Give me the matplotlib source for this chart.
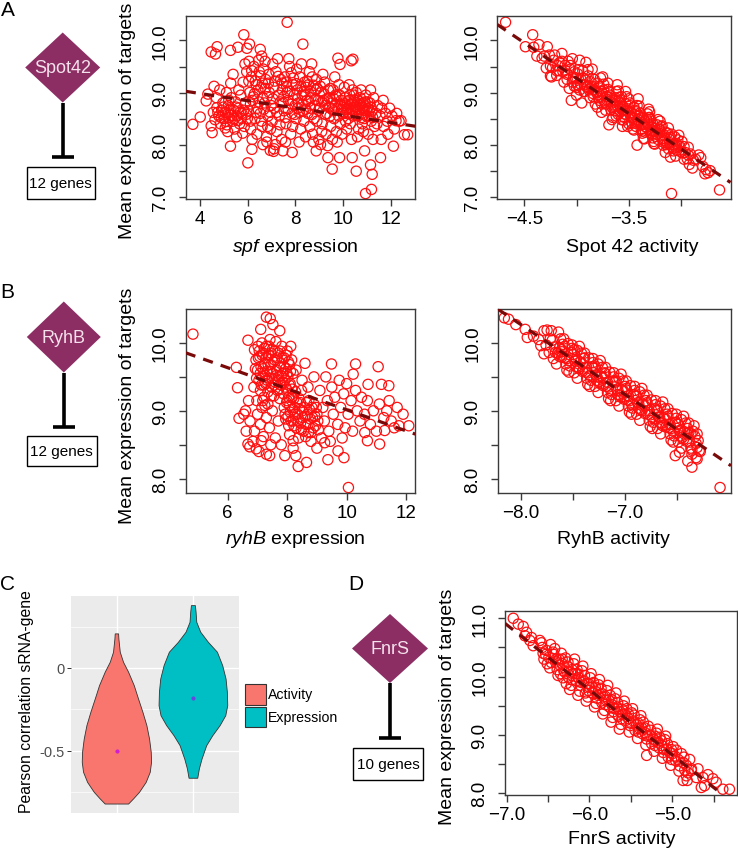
import matplotlib.pyplot as plt
from matplotlib.patches import Polygon, Rectangle

plt.rcParams['font.family'] = ['Liberation Sans', 'DejaVu Sans']
plt.rcParams['mathtext.fontset'] = 'custom'
plt.rcParams['mathtext.rm'] = 'Liberation Sans'
plt.rcParams['mathtext.it'] = 'Liberation Sans:italic'

# ---------------- data ----------------
# A: spf expression vs mean expression of Spot42 targets
spf_pts = [
    (4.55, 8.62), (4.62, 8.48), (4.70, 8.71), (4.78, 8.55), (4.85, 8.40), (4.90, 8.66), (4.68, 8.90), (4.95, 8.80),
    (4.82, 9.05), (5.00, 8.50), (4.58, 9.12),
    (5.05, 8.62), (5.12, 8.38), (5.18, 8.75), (5.22, 8.52), (5.30, 8.90), (5.35, 8.45), (5.40, 8.66), (5.10, 9.00),
    (5.28, 9.18), (5.45, 8.30), (5.48, 8.82), (5.15, 8.25), (5.38, 9.35),
    (5.55, 8.55), (5.60, 8.70), (5.65, 8.40), (5.70, 8.95), (5.75, 8.60), (5.80, 9.20), (5.85, 8.35), (5.90, 8.80),
    (5.95, 9.40), (5.62, 9.05), (5.78, 8.22), (5.88, 9.55), (5.52, 8.15), (5.98, 8.50),
    (6.02, 8.65), (6.08, 9.00), (6.12, 8.30), (6.15, 9.30), (6.20, 8.85), (6.25, 9.50), (6.30, 8.50), (6.35, 9.15),
    (6.40, 8.70), (6.45, 9.62), (6.05, 9.60), (6.18, 8.10), (6.28, 8.98), (6.38, 8.20), (6.48, 9.40), (6.10, 8.45),
    (6.52, 8.60), (6.55, 9.10), (6.60, 8.35), (6.65, 9.45), (6.70, 8.80), (6.75, 9.25), (6.80, 8.05), (6.85, 8.55),
    (6.90, 9.00), (6.95, 8.30), (6.58, 9.70), (6.72, 9.60), (6.88, 9.35), (6.62, 8.90), (6.98, 8.75), (6.78, 8.15),
    (7.02, 8.45), (7.08, 9.10), (7.12, 8.70), (7.18, 9.40), (7.22, 8.25), (7.28, 8.95), (7.32, 8.55), (7.38, 9.25),
    (7.42, 8.10), (7.48, 8.80), (7.05, 9.55), (7.15, 8.00), (7.25, 9.65), (7.35, 8.38), (7.45, 9.05), (7.10, 7.92),
    (7.52, 8.65), (7.55, 9.30), (7.60, 8.40), (7.65, 9.00), (7.70, 8.85), (7.75, 9.50), (7.80, 8.20), (7.85, 8.60),
    (7.90, 9.15), (7.95, 8.95), (7.58, 8.05), (7.72, 9.65), (7.88, 8.35), (7.62, 9.20), (7.98, 8.75), (7.82, 9.38),
    (8.02, 8.50), (8.08, 9.05), (8.12, 8.80), (8.18, 9.30), (8.22, 8.30), (8.28, 8.95), (8.32, 8.65), (8.38, 9.20),
    (8.42, 8.15), (8.48, 8.85), (8.05, 9.45), (8.15, 8.05), (8.25, 9.55), (8.35, 8.45), (8.45, 9.10), (8.10, 8.70),
    (8.40, 8.95),
    (8.52, 8.60), (8.55, 9.15), (8.60, 8.35), (8.65, 8.90), (8.70, 9.30), (8.75, 8.05), (8.80, 8.75), (8.85, 9.05),
    (8.90, 8.45), (8.95, 8.85), (8.58, 9.40), (8.72, 8.20), (8.88, 9.25), (8.62, 8.70), (8.98, 8.10), (8.78, 8.50),
    (8.68, 9.55),
    (9.02, 8.70), (9.08, 9.00), (9.12, 8.40), (9.18, 8.85), (9.22, 9.20), (9.28, 8.20), (9.32, 8.60), (9.38, 9.05),
    (9.42, 8.90), (9.48, 8.35), (9.05, 8.00), (9.15, 9.35), (9.25, 8.75), (9.35, 7.98), (9.45, 8.55), (9.10, 8.25),
    (9.52, 8.80), (9.58, 9.05), (9.62, 8.50), (9.68, 8.95), (9.72, 8.25), (9.78, 8.70), (9.82, 9.15), (9.88, 8.40),
    (9.92, 8.85), (9.98, 8.60), (9.55, 8.10), (9.65, 9.30), (9.75, 8.05), (9.85, 8.95), (9.95, 8.20), (9.60, 8.65),
    (10.02, 8.75), (10.08, 8.90), (10.12, 8.60), (10.18, 8.82), (10.22, 8.50), (10.28, 8.95), (10.32, 8.68),
    (10.38, 8.80), (10.42, 8.55), (10.48, 8.72), (10.05, 9.10), (10.15, 8.30), (10.25, 9.15), (10.35, 8.10),
    (10.45, 8.95), (10.10, 8.45), (10.30, 8.40), (10.40, 9.05), (10.20, 8.70),
    (10.52, 8.65), (10.58, 8.80), (10.62, 8.55), (10.68, 8.75), (10.72, 8.90), (10.78, 8.60), (10.82, 8.72),
    (10.88, 8.50), (10.92, 8.82), (10.98, 8.65), (10.55, 9.00), (10.65, 8.30), (10.75, 9.05), (10.85, 8.25),
    (10.95, 8.95), (10.60, 8.15), (10.80, 8.40),
    (11.02, 8.70), (11.08, 8.55), (11.12, 8.80), (11.18, 8.45), (11.22, 8.65), (11.28, 8.90), (11.32, 8.35),
    (11.38, 8.60), (11.45, 8.75), (11.05, 8.20), (11.15, 9.05), (11.25, 8.10), (11.42, 8.40),
    (11.55, 8.55), (11.62, 8.70), (11.70, 8.35), (11.78, 8.60), (11.85, 8.45), (11.95, 8.70), (12.05, 8.55),
    (12.15, 8.30), (11.68, 8.85), (11.88, 8.20), (12.25, 8.60), (12.35, 8.45), (11.60, 8.10),
    (7.65, 10.35), (5.83, 10.11), (4.71, 9.88), (4.46, 9.78), (4.64, 9.74), (5.27, 9.81), (5.58, 9.87), (5.96, 9.85),
    (6.07, 9.93), (6.52, 9.83), (8.31, 9.93), (9.78, 9.66), (10.34, 9.61), (10.41, 9.64), (9.87, 9.54),
    (3.69, 8.39), (4.00, 8.53), (4.46, 8.36), (4.50, 8.23), (5.27, 7.97), (6.00, 7.65), (6.17, 7.91), (6.63, 8.00),
    (6.94, 7.89), (7.08, 7.87), (7.47, 7.88), (7.86, 7.85), (8.87, 7.88), (9.36, 7.75), (9.54, 7.53), (9.85, 7.75),
    (10.38, 7.75), (10.55, 7.49), (10.90, 7.88), (11.15, 7.61), (11.22, 7.43), (10.94, 7.06), (11.19, 7.14),
    (11.57, 7.75), (12.11, 7.97), (12.22, 8.46), (12.43, 8.46), (12.57, 8.19), (12.71, 8.19), (4.25, 8.84),
    (4.32, 8.97),
]
spf_core = [
    (7.05, 8.88), (7.13, 9.22), (7.21, 8.62), (7.27, 9.31), (7.36, 8.82), (7.44, 9.18), (7.51, 8.92), (7.57, 8.52),
    (7.63, 9.12), (7.69, 8.68), (7.76, 9.02), (7.84, 8.78), (7.91, 9.28), (7.97, 8.58), (8.03, 9.17), (8.09, 8.88),
    (8.16, 8.62), (8.23, 9.12), (8.29, 8.77), (8.36, 9.02), (8.43, 8.68), (8.49, 9.22), (8.56, 8.83), (8.63, 9.02),
    (8.69, 8.58), (8.76, 9.14), (8.83, 8.87), (8.91, 9.08), (8.97, 8.66), (9.04, 9.12), (9.11, 8.82), (9.19, 8.98),
    (9.26, 8.58), (9.33, 8.88), (9.41, 8.72), (9.47, 9.08), (9.53, 8.68), (9.61, 8.88), (9.67, 8.76), (9.74, 8.92),
    (9.81, 8.55), (9.87, 8.78), (9.93, 8.68),
    (10.03, 8.62), (10.11, 8.78), (10.17, 8.68), (10.24, 8.85), (10.27, 8.60), (10.34, 8.78), (10.41, 8.66),
    (10.47, 8.85), (10.54, 8.72), (10.57, 8.58), (10.63, 8.85), (10.66, 8.68), (10.73, 8.78), (10.77, 8.52),
    (10.84, 8.80), (10.87, 8.66), (10.93, 8.74), (10.97, 8.55), (11.03, 8.82), (11.10, 8.66), (11.17, 8.72),
    (11.24, 8.52),
    (6.04, 9.22), (6.11, 8.78), (6.16, 9.42), (6.23, 8.92), (6.31, 9.22), (6.36, 8.62), (6.42, 9.05), (6.47, 8.82),
    (6.53, 9.32), (6.61, 9.18), (6.67, 8.68), (6.73, 9.08), (6.81, 8.92), (6.86, 9.18), (6.94, 8.62), (6.57, 8.45),
    (6.83, 8.35),
    (4.74, 8.62), (4.88, 8.52), (4.97, 8.72), (5.07, 8.45), (5.16, 8.60), (5.25, 8.68), (5.33, 8.56), (5.43, 8.50),
    (5.51, 8.72), (5.58, 8.46), (5.68, 8.62), (5.73, 8.50), (5.83, 8.66), (5.93, 8.58), (5.20, 8.85), (5.05, 8.32),
]
spf_fit = [(3.3, 9.03), (12.5, 8.39)]

# A: Spot 42 activity
spot42_pts = [
    (-4.41, 9.87), (-4.38, 9.70), (-4.36, 9.92), (-4.33, 9.66), (-4.31, 9.70), (-4.28, 9.88), (-4.29, 9.47),
    (-4.26, 9.72), (-4.23, 9.48), (-4.24, 9.30), (-4.21, 9.72), (-4.18, 9.52), (-4.19, 9.33),
    (-4.16, 9.58), (-4.13, 9.40), (-4.14, 9.75), (-4.12, 9.20), (-4.11, 9.43), (-4.08, 9.60), (-4.09, 9.25),
    (-4.07, 9.08), (-4.06, 9.45), (-4.03, 9.30), (-4.04, 9.65), (-4.02, 9.12), (-4.05, 8.85),
    (-4.01, 9.28), (-3.98, 9.44), (-3.99, 9.15), (-3.97, 9.62), (-4.00, 8.95),
    (-3.96, 9.26), (-3.93, 9.02), (-3.94, 9.42), (-3.92, 9.15), (-3.95, 8.80), (-3.91, 9.58),
    (-3.91, 9.24), (-3.88, 9.05), (-3.89, 9.44), (-3.87, 8.90), (-3.90, 9.12),
    (-3.86, 9.10), (-3.83, 9.25), (-3.84, 8.92), (-3.82, 8.78), (-3.85, 9.45), (-3.81, 9.02),
    (-3.81, 9.00), (-3.78, 9.12), (-3.79, 8.90), (-3.77, 9.28), (-3.80, 8.72), (-3.76, 8.62),
    (-3.76, 9.02), (-3.73, 8.82), (-3.74, 9.16), (-3.72, 8.66), (-3.75, 9.30), (-3.71, 8.93),
    (-3.71, 8.92), (-3.68, 8.82), (-3.69, 9.02), (-3.67, 8.67), (-3.70, 9.18), (-3.66, 8.48), (-3.69, 8.38),
    (-3.66, 8.80), (-3.63, 8.90), (-3.64, 8.65), (-3.62, 9.02), (-3.65, 8.52), (-3.61, 9.15), (-3.64, 8.76),
    (-3.61, 8.75), (-3.58, 8.63), (-3.59, 8.91), (-3.57, 8.48), (-3.60, 9.03), (-3.56, 8.35), (-3.58, 8.80),
    (-3.56, 8.67), (-3.53, 8.79), (-3.54, 8.59), (-3.52, 8.92), (-3.55, 8.47), (-3.51, 8.35), (-3.53, 9.02),
    (-3.51, 8.65), (-3.48, 8.55), (-3.49, 8.75), (-3.47, 8.42), (-3.50, 8.88), (-3.46, 8.30), (-3.48, 8.62),
    (-3.46, 8.53), (-3.43, 8.63), (-3.44, 8.41), (-3.42, 8.75), (-3.45, 8.28), (-3.41, 8.88), (-3.42, 7.99),
    (-3.41, 8.48), (-3.38, 8.38), (-3.39, 8.61), (-3.37, 8.26), (-3.40, 8.74), (-3.36, 8.12), (-3.38, 8.52),
    (-3.36, 8.39), (-3.33, 8.49), (-3.34, 8.24), (-3.32, 8.59), (-3.35, 8.11), (-3.31, 8.68),
    (-3.31, 8.38), (-3.28, 8.28), (-3.29, 8.48), (-3.27, 8.13), (-3.30, 8.63), (-3.26, 8.02),
    (-3.26, 8.26), (-3.23, 8.38), (-3.24, 8.16), (-3.22, 8.48), (-3.25, 8.01), (-3.21, 8.30),
    (-3.21, 8.22), (-3.18, 8.11), (-3.19, 8.34), (-3.17, 7.99), (-3.20, 8.45), (-3.16, 8.18),
    (-3.16, 8.12), (-3.13, 8.22), (-3.14, 8.00), (-3.12, 8.32), (-3.15, 7.85),
    (-3.11, 8.10), (-3.08, 8.00), (-3.09, 8.20), (-3.07, 7.88), (-3.10, 7.76),
    (-3.06, 7.99), (-3.03, 8.09), (-3.04, 7.89), (-3.02, 8.18), (-3.05, 7.78),
    (-3.01, 7.96), (-2.98, 7.84), (-2.99, 8.06), (-2.97, 7.72),
    (-2.96, 7.85), (-2.93, 7.95), (-2.94, 7.73), (-2.92, 7.62),
    (-2.91, 7.82), (-2.88, 7.70), (-2.89, 7.55), (-2.86, 7.72), (-2.83, 7.80), (-2.81, 7.75),
    (-2.79, 7.58), (-2.77, 7.44), (-2.76, 7.52),
    (-4.68, 10.35), (-4.42, 10.11), (-4.49, 9.88), (-4.25, 9.32), (-4.25, 9.51), (-3.09, 7.06), (-2.63, 7.13),
    (-2.72, 7.50), (-2.74, 7.46),
]
spot42_core = [
    (-4.17, 9.42), (-4.11, 9.52), (-4.04, 9.20), (-3.99, 9.36), (-3.94, 9.28), (-3.92, 9.02), (-3.87, 9.21),
    (-3.84, 8.98), (-3.80, 9.18), (-3.78, 8.85), (-3.74, 9.05), (-3.72, 8.78), (-3.68, 8.95), (-3.66, 8.72),
    (-3.63, 8.86), (-3.60, 8.58), (-3.59, 8.82), (-3.56, 8.72), (-3.54, 8.52), (-3.52, 8.66), (-3.49, 8.80),
    (-3.47, 8.52), (-3.44, 8.66), (-3.43, 8.35), (-3.40, 8.55), (-3.38, 8.30), (-3.36, 8.50), (-3.33, 8.33),
    (-3.31, 8.52), (-3.29, 8.22), (-3.27, 8.40), (-3.24, 8.25), (-3.22, 8.10), (-3.20, 8.28), (-3.17, 8.05),
    (-3.15, 8.24), (-3.13, 8.02), (-3.10, 8.14), (-3.07, 7.93), (-3.04, 8.02), (-3.00, 7.86), (-2.97, 7.96),
    (-2.93, 7.80), (-3.97, 9.05), (-3.89, 9.32), (-3.76, 8.78), (-3.70, 9.06), (-3.62, 8.55), (-3.57, 8.92),
    (-3.50, 8.40), (-3.45, 8.72), (-3.37, 8.22), (-3.30, 8.52), (-3.26, 8.06), (-3.18, 8.36), (-3.12, 7.92),
    (-3.06, 8.15), (-4.22, 9.62), (-4.19, 9.42), (-4.14, 9.60), (-4.09, 9.35), (-4.06, 9.52), (-4.02, 9.40),
    (-4.00, 9.10),
    (-4.03, 9.26), (-3.96, 9.16), (-3.90, 9.10), (-3.83, 9.05), (-3.77, 8.92), (-3.71, 8.86), (-3.65, 8.74),
    (-3.58, 8.70), (-3.53, 8.58), (-3.46, 8.50), (-3.41, 8.42), (-3.34, 8.35), (-3.28, 8.26), (-3.23, 8.20),
    (-3.16, 8.08), (-3.11, 8.04), (-3.05, 7.95), (-3.85, 9.12), (-3.75, 8.98), (-3.64, 8.84), (-3.55, 8.72),
    (-3.44, 8.57), (-3.35, 8.45), (-3.25, 8.32),
]
spot42_fit = [(-4.74, 10.28), (-2.64, 7.43)]

# B: ryhB expression
ryhb_expr_pts = [
    (6.90, 9.90), (6.95, 9.75), (7.00, 9.60), (7.02, 9.95), (7.05, 9.45), (7.08, 9.80), (7.10, 9.30), (7.12, 9.65),
    (7.15, 10.00), (7.18, 9.50), (7.20, 9.85), (7.22, 9.20), (7.25, 9.70), (7.28, 9.40), (7.30, 9.95), (7.32, 9.58),
    (7.35, 9.28), (7.38, 9.82), (7.40, 9.48), (7.42, 10.05), (7.45, 9.68), (7.48, 9.35), (7.50, 9.90), (7.52, 9.55),
    (7.55, 9.22), (7.58, 9.75), (7.60, 9.42), (7.62, 10.02), (7.65, 9.60), (7.68, 9.30), (7.70, 9.85), (7.72, 9.50),
    (7.75, 9.18), (7.78, 9.70), (7.80, 9.38), (7.82, 9.95), (7.85, 9.55), (7.88, 9.25), (7.90, 9.78), (7.92, 9.45),
    (7.95, 9.62), (7.98, 9.32), (8.00, 9.88), (8.02, 9.50), (8.05, 9.20), (8.08, 9.68), (8.10, 9.40), (6.88, 9.35),
    (6.98, 9.15), (7.15, 9.05), (7.35, 9.10), (8.15, 9.75), (8.20, 9.55), (8.12, 9.95),
    (7.90, 9.05), (7.95, 8.88), (8.00, 9.15), (8.05, 8.78), (8.10, 8.98), (8.15, 9.20), (8.20, 8.85), (8.25, 9.05),
    (8.30, 8.75), (8.35, 8.95), (8.40, 9.18), (8.45, 8.82), (8.50, 9.00), (8.55, 8.70), (8.60, 8.92), (8.65, 9.12),
    (8.70, 8.80), (8.75, 9.02), (8.80, 8.68), (8.85, 8.90), (8.90, 9.10), (8.95, 8.78), (9.00, 8.95), (9.05, 8.72),
    (8.28, 9.28), (8.48, 9.30), (8.08, 8.65), (8.62, 8.62), (8.38, 8.60),
    (6.60, 9.00), (6.75, 8.85), (6.90, 8.70), (7.00, 8.95), (7.10, 8.80), (7.20, 8.62), (7.30, 8.90), (7.40, 8.75),
    (7.50, 9.00), (7.60, 8.60), (7.70, 8.85), (7.80, 8.50), (6.70, 9.15), (6.85, 8.55), (7.05, 8.40), (7.45, 8.50),
    (7.25, 9.08), (6.62, 8.70),
    (9.10, 9.30), (9.20, 9.05), (9.25, 8.85), (9.30, 9.50), (9.35, 9.15), (9.40, 8.70), (9.50, 9.35), (9.55, 8.95),
    (9.60, 9.20), (9.70, 8.80), (9.75, 9.45), (9.80, 9.05), (9.90, 9.25), (9.95, 8.75), (10.00, 9.40), (10.05, 8.95),
    (10.15, 9.15), (10.20, 8.70), (10.30, 9.30), (10.35, 9.00), (10.45, 8.85), (10.50, 9.20), (10.60, 8.95),
    (10.70, 9.15), (10.80, 8.80), (10.90, 9.00), (11.00, 8.70), (11.10, 9.10), (11.25, 8.90), (11.35, 9.00),
    (11.50, 8.85), (11.60, 8.75), (11.70, 9.05), (11.90, 8.95), (9.15, 8.60), (9.45, 8.55), (9.85, 8.60),
    (8.50, 9.45), (8.70, 9.35), (8.90, 9.50), (8.30, 9.60), (8.60, 9.70), (8.80, 8.55), (9.00, 8.45), (8.20, 8.45),
    (4.83, 10.13), (6.29, 9.64), (6.33, 9.34), (6.68, 10.04), (7.30, 10.38), (7.43, 10.36), (7.52, 10.27),
    (7.11, 10.20), (7.75, 10.18), (6.38, 8.89), (6.54, 8.95), (6.68, 8.51), (6.74, 8.47), (6.96, 8.44), (7.13, 8.56),
    (7.30, 8.36), (7.41, 8.34), (7.92, 8.34), (8.29, 8.34), (8.37, 8.18), (8.65, 8.24), (8.20, 8.56), (9.26, 8.53),
    (9.37, 8.28), (9.71, 8.41), (9.91, 8.31), (10.06, 7.87), (9.49, 9.69), (10.30, 9.69), (11.06, 9.65),
    (11.17, 9.39), (11.42, 9.37), (11.43, 9.15), (11.76, 8.78), (12.09, 8.78), (11.11, 8.51), (10.70, 8.56),
    (11.28, 8.71), (10.61, 8.68), (10.22, 9.54), (10.72, 9.39),
]
ryhb_expr_core = [
    (6.93, 9.62), (6.97, 9.48), (7.03, 9.78), (7.06, 9.88), (7.09, 9.55), (7.13, 9.38), (7.16, 9.82), (7.19, 9.62),
    (7.23, 9.92), (7.26, 9.52), (7.29, 9.78), (7.33, 9.45), (7.36, 9.68), (7.39, 9.95), (7.43, 9.58), (7.46, 9.85),
    (7.49, 9.48), (7.53, 9.72), (7.56, 9.38), (7.59, 9.88), (7.63, 9.52), (7.66, 9.78), (7.69, 9.45), (7.73, 9.65),
    (7.76, 9.88), (7.79, 9.52), (7.83, 9.78), (7.86, 9.42), (7.89, 9.65), (7.93, 9.35), (7.96, 9.82), (7.99, 9.55),
    (8.04, 9.72), (8.07, 9.38), (8.11, 9.58), (7.22, 9.38), (7.47, 9.22), (7.71, 9.32), (7.18, 9.15), (8.17, 9.32),
    (7.93, 8.95), (7.98, 9.12), (8.03, 8.92), (8.08, 9.08), (8.13, 8.85), (8.18, 9.02), (8.23, 8.78), (8.27, 8.95),
    (8.33, 9.12), (8.37, 8.85), (8.42, 9.02), (8.47, 8.72), (8.52, 8.90), (8.57, 9.05), (8.63, 8.80), (8.68, 8.95),
    (8.73, 9.15), (8.78, 8.88), (8.83, 9.05), (8.88, 8.75), (8.93, 8.92), (8.98, 9.05), (9.03, 8.85), (8.22, 9.18),
    (8.45, 9.12), (8.72, 8.68),
]
ryhb_expr_fit = [(4.55, 9.86), (12.29, 8.66)]

# B: RyhB activity
ryhb_act_pts = [
    (-8.16, 10.37), (-8.12, 10.35), (-8.05, 10.27), (-7.96, 10.20), (-7.94, 10.08), (-7.88, 10.10), (-7.83, 10.05),
    (-7.78, 10.18), (-7.81, 9.96), (-7.78, 9.84),
    (-7.75, 10.19), (-7.72, 10.06), (-7.76, 9.97), (-7.73, 9.86),
    (-7.70, 10.04), (-7.67, 9.86), (-7.71, 10.18), (-7.68, 9.94), (-7.69, 9.77),
    (-7.65, 9.85), (-7.62, 10.06), (-7.66, 9.69), (-7.63, 9.93), (-7.64, 10.16), (-7.61, 9.79),
    (-7.60, 9.98), (-7.57, 9.69), (-7.61, 9.90), (-7.58, 9.78), (-7.59, 10.06), (-7.56, 9.60),
    (-7.55, 9.99), (-7.52, 9.86), (-7.56, 9.77), (-7.53, 9.66), (-7.54, 9.57), (-7.51, 9.92),
    (-7.50, 9.83), (-7.47, 9.65), (-7.51, 9.97), (-7.48, 9.73), (-7.49, 9.56), (-7.46, 9.89),
    (-7.45, 9.64), (-7.42, 9.85), (-7.46, 9.48), (-7.43, 9.72), (-7.44, 9.95), (-7.41, 9.58),
    (-7.40, 9.77), (-7.37, 9.48), (-7.41, 9.69), (-7.38, 9.57), (-7.39, 9.85), (-7.36, 9.39),
    (-7.35, 9.78), (-7.32, 9.65), (-7.36, 9.56), (-7.33, 9.45), (-7.34, 9.36), (-7.31, 9.71),
    (-7.30, 9.63), (-7.27, 9.45), (-7.31, 9.77), (-7.28, 9.53), (-7.29, 9.36), (-7.26, 9.69),
    (-7.25, 9.43), (-7.22, 9.64), (-7.26, 9.27), (-7.23, 9.51), (-7.24, 9.74), (-7.21, 9.37),
    (-7.20, 9.56), (-7.17, 9.27), (-7.21, 9.48), (-7.18, 9.36), (-7.19, 9.64), (-7.16, 9.18),
    (-7.15, 9.57), (-7.12, 9.44), (-7.16, 9.35), (-7.13, 9.24), (-7.14, 9.15), (-7.11, 9.50),
    (-7.10, 9.42), (-7.07, 9.24), (-7.11, 9.56), (-7.08, 9.32), (-7.09, 9.15), (-7.06, 9.48),
    (-7.05, 9.23), (-7.02, 9.44), (-7.06, 9.07), (-7.03, 9.31), (-7.04, 9.54), (-7.01, 9.17),
    (-7.00, 9.36), (-6.97, 9.07), (-7.01, 9.28), (-6.98, 9.16), (-6.99, 9.44), (-6.96, 8.98),
    (-6.95, 9.37), (-6.92, 9.24), (-6.96, 9.15), (-6.93, 9.04), (-6.94, 8.95), (-6.91, 9.30),
    (-6.90, 9.22), (-6.87, 9.04), (-6.91, 9.36), (-6.88, 9.12), (-6.89, 8.95), (-6.86, 9.28),
    (-6.85, 9.02), (-6.82, 9.23), (-6.86, 8.86), (-6.83, 9.10), (-6.84, 9.33), (-6.81, 8.96),
    (-6.80, 9.15), (-6.77, 8.86), (-6.81, 9.07), (-6.78, 8.95), (-6.79, 9.23), (-6.76, 8.77),
    (-6.75, 9.16), (-6.72, 9.03), (-6.76, 8.94), (-6.73, 8.83), (-6.74, 8.74), (-6.71, 9.09),
    (-6.70, 9.01), (-6.67, 8.83), (-6.71, 9.15), (-6.68, 8.91), (-6.69, 8.74), (-6.66, 9.07),
    (-6.65, 8.82), (-6.62, 9.03), (-6.66, 8.66), (-6.63, 8.90), (-6.64, 9.13), (-6.61, 8.76),
    (-6.60, 8.95), (-6.57, 8.66), (-6.61, 8.87), (-6.58, 8.75), (-6.59, 9.03), (-6.56, 8.57),
    (-6.55, 8.96), (-6.52, 8.83), (-6.56, 8.74), (-6.53, 8.63), (-6.54, 8.54), (-6.51, 8.89),
    (-6.50, 8.81), (-6.47, 8.63), (-6.51, 8.95), (-6.48, 8.71), (-6.49, 8.54), (-6.46, 8.87),
    (-6.45, 8.61), (-6.42, 8.82), (-6.46, 8.45), (-6.43, 8.69), (-6.44, 8.92), (-6.41, 8.55),
    (-6.40, 8.74), (-6.37, 8.45), (-6.41, 8.66), (-6.38, 8.54), (-6.39, 8.82), (-6.36, 8.36),
    (-6.35, 8.70), (-6.32, 8.52), (-6.36, 8.42), (-6.33, 8.62),
    (-6.30, 8.56), (-6.28, 8.40), (-6.31, 8.66),
    (-6.52, 8.34), (-6.48, 8.39), (-6.40, 8.26), (-6.36, 8.17), (-6.32, 8.31), (-6.29, 8.41), (-6.31, 8.29),
    (-6.37, 8.66), (-6.34, 8.78), (-6.31, 8.46), (-6.09, 7.87),
]
ryhb_act_core = [
    (-7.63, 9.80), (-7.58, 9.95), (-7.54, 9.74), (-7.49, 9.90), (-7.44, 9.62), (-7.39, 9.78), (-7.34, 9.52),
    (-7.29, 9.66), (-7.24, 9.40), (-7.19, 9.55), (-7.14, 9.30), (-7.09, 9.44), (-7.04, 9.20), (-6.99, 9.33),
    (-6.94, 9.10), (-6.89, 9.22), (-6.84, 9.00), (-6.79, 9.12), (-6.74, 8.90), (-6.69, 9.00), (-6.64, 8.78),
    (-6.59, 8.92), (-6.54, 8.70), (-6.49, 8.80), (-6.44, 8.58), (-6.39, 8.68),
    (-7.61, 9.87), (-7.47, 9.76), (-7.37, 9.64), (-7.27, 9.50), (-7.17, 9.42), (-7.07, 9.30), (-6.97, 9.22),
    (-6.87, 9.10), (-6.77, 9.00), (-6.67, 8.90), (-6.57, 8.80), (-6.47, 8.70),
]
ryhb_act_fit = [(-8.195, 10.47), (-6.10, 8.31)]

# D: FnrS activity
fnrs_pts = [
    (-6.92, 11.00), (-6.86, 10.90), (-6.80, 10.86), (-6.76, 10.76), (-6.78, 10.70), (-6.70, 10.67), (-6.68, 10.53),
    (-6.60, 10.62), (-6.72, 10.62),
    (-6.58, 10.58), (-6.56, 10.40), (-6.55, 10.30), (-6.57, 10.50),
    (-6.52, 10.45), (-6.49, 10.33), (-6.51, 10.22), (-6.47, 10.55), (-6.48, 10.15),
    (-6.43, 10.38), (-6.41, 10.25), (-6.39, 10.12), (-6.42, 10.48), (-6.37, 10.30), (-6.38, 10.02),
    (-6.33, 10.22), (-6.31, 10.10), (-6.29, 10.32), (-6.32, 9.98), (-6.27, 10.18), (-6.28, 9.88), (-6.34, 10.40),
    (-6.23, 10.08), (-6.21, 9.95), (-6.19, 10.22), (-6.22, 9.85), (-6.17, 10.05), (-6.18, 10.30), (-6.24, 9.78),
    (-6.13, 9.98), (-6.11, 9.85), (-6.09, 10.10), (-6.12, 9.75), (-6.07, 9.92), (-6.08, 10.18), (-6.14, 9.68),
    (-6.03, 9.88), (-6.01, 9.76), (-5.99, 9.98), (-6.02, 9.65), (-5.97, 9.82), (-5.98, 10.05), (-6.04, 9.58),
    (-5.93, 9.75), (-5.91, 9.63), (-5.89, 9.86), (-5.92, 9.54), (-5.87, 9.70), (-5.88, 9.95), (-5.94, 9.48),
    (-5.83, 9.65), (-5.81, 9.52), (-5.79, 9.76), (-5.82, 9.42), (-5.77, 9.60), (-5.78, 9.85), (-5.84, 9.36),
    (-5.73, 9.52), (-5.71, 9.40), (-5.69, 9.62), (-5.72, 9.30), (-5.67, 9.48), (-5.68, 9.72), (-5.74, 9.22),
    (-5.63, 9.40), (-5.61, 9.28), (-5.59, 9.50), (-5.62, 9.18), (-5.57, 9.36), (-5.58, 9.58), (-5.64, 9.10),
    (-5.53, 9.28), (-5.51, 9.16), (-5.49, 9.38), (-5.52, 9.05), (-5.47, 9.24), (-5.48, 9.45),
    (-5.43, 9.17), (-5.41, 9.05), (-5.39, 9.26), (-5.42, 8.94), (-5.37, 9.12), (-5.38, 9.33),
    (-5.33, 9.04), (-5.31, 8.93), (-5.29, 9.15), (-5.32, 8.83), (-5.27, 9.00), (-5.31, 8.65),
    (-5.23, 8.93), (-5.21, 8.82), (-5.19, 9.03), (-5.22, 8.72), (-5.17, 8.88), (-5.18, 9.10),
    (-5.13, 8.82), (-5.11, 8.70), (-5.09, 8.92), (-5.12, 8.60), (-5.07, 8.76), (-5.08, 8.98),
    (-5.03, 8.70), (-5.01, 8.58), (-4.99, 8.80), (-5.02, 8.48), (-4.97, 8.64),
    (-4.93, 8.58), (-4.91, 8.47), (-4.89, 8.68), (-4.92, 8.38), (-4.87, 8.53),
    (-4.83, 8.48), (-4.81, 8.35), (-4.79, 8.58), (-4.82, 8.22), (-4.77, 8.42),
    (-4.87, 8.22), (-4.83, 8.30), (-4.77, 8.39), (-4.69, 8.42), (-4.63, 8.27), (-4.61, 8.13), (-4.57, 8.32),
    (-4.51, 8.25), (-4.47, 8.19), (-4.39, 8.07), (-4.31, 8.07), (-4.65, 8.10), (-4.71, 8.27),
]
fnrs_core = [
    (-6.53, 10.38), (-6.46, 10.24), (-6.44, 10.42), (-6.36, 10.20), (-6.35, 10.05), (-6.26, 10.25), (-6.25, 9.98),
    (-6.16, 9.93), (-6.15, 10.12), (-6.06, 10.02), (-6.05, 9.72), (-5.96, 9.72), (-5.95, 9.90), (-5.86, 9.80),
    (-5.85, 9.55), (-5.76, 9.48), (-5.75, 9.68), (-5.66, 9.55), (-5.65, 9.32), (-5.56, 9.25), (-5.55, 9.45),
    (-5.46, 9.34), (-5.45, 9.08), (-5.36, 9.02), (-5.35, 9.22), (-5.26, 9.08), (-5.25, 8.85), (-5.16, 8.78),
    (-5.15, 8.96), (-5.06, 8.85), (-5.05, 8.62), (-4.96, 8.56), (-4.95, 8.74), (-4.86, 8.62), (-4.85, 8.40),
    (-6.21, 10.12), (-6.01, 9.88), (-5.81, 9.66), (-5.61, 9.44), (-5.41, 9.20), (-5.21, 8.98), (-5.01, 8.75),
    (-6.40, 10.30), (-6.30, 10.08), (-6.20, 10.05), (-6.10, 9.90), (-6.00, 9.82), (-5.90, 9.68), (-5.80, 9.60),
    (-5.70, 9.45), (-5.60, 9.36), (-5.50, 9.20), (-5.40, 9.12), (-5.30, 8.98), (-5.20, 8.90), (-5.10, 8.75),
    (-5.00, 8.68), (-6.33, 10.30), (-6.14, 10.05), (-5.93, 9.82), (-5.73, 9.60), (-5.53, 9.36), (-5.33, 9.12),
    (-5.13, 8.90),
]
fnrs_fit = [(-7.0, 10.89), (-4.51, 8.11)]

# C: violin profiles (level, half width) and means
act_levels = [0.206, 0.175, 0.095, 0.034, -0.026, -0.107, -0.188, -0.268, -0.349, -0.430, -0.510,
              -0.571, -0.631, -0.692, -0.752, -0.792, -0.823]
act_halfw = [0.022, 0.026, 0.044, 0.087, 0.153, 0.227, 0.283, 0.340, 0.392, 0.427, 0.449,
             0.453, 0.436, 0.383, 0.296, 0.218, 0.153]
expr_levels = [0.377, 0.337, 0.276, 0.216, 0.155, 0.095, 0.014, -0.067, -0.147, -0.228, -0.289,
               -0.349, -0.410, -0.470, -0.551, -0.611, -0.667]
expr_halfw = [0.026, 0.035, 0.044, 0.096, 0.196, 0.314, 0.383, 0.427, 0.444, 0.449, 0.423,
              0.349, 0.253, 0.174, 0.113, 0.078, 0.057]
act_mean = -0.50
expr_mean = -0.183

# ---------------- figure ----------------
W, H = 738, 853
fig = plt.figure(figsize=(W / 100, H / 100), dpi=100)


def px_axes(x0, y0, x1, y1):
    return fig.add_axes([x0 / W, 1 - y1 / H, (x1 - x0) / W, (y1 - y0) / H])


def ftext(x, y, s, **kw):
    fig.text(x / W, 1 - y / H, s, **kw)


# overlay for the sRNA diagrams, panel letters and the ggplot legend
ov = px_axes(0, 0, W, H)
ov.set_xlim(0, W)
ov.set_ylim(H, 0)
ov.axis('off')

PURPLE = '#8C2E64'


def srna(cx, cy, hw, hh, name, bar_y, box, genes):
    ov.add_patch(Polygon([(cx - hw, cy), (cx, cy - hh), (cx + hw, cy), (cx, cy + hh)],
                         closed=True, fc=PURPLE, ec='none'))
    ov.text(cx, cy, name, color='#F4E1EC', fontsize=13, ha='center', va='center')
    ov.plot([cx, cx], [cy + hh, bar_y], color='black', lw=2.6, solid_capstyle='butt')
    ov.plot([cx - 11, cx + 11], [bar_y, bar_y], color='black', lw=2.6, solid_capstyle='butt')
    x0, y0, x1, y1 = box
    ov.add_patch(Rectangle((x0, y0), x1 - x0, y1 - y0, fc='white', ec='black', lw=1.0))
    ov.text((x0 + x1) / 2, (y0 + y1) / 2, genes, fontsize=11, ha='center', va='center')


srna(62.7, 68.5, 37.5, 35, 'Spot42', 157.7, (26.7, 168.3, 95, 200), '12 genes')
srna(63.8, 338, 37, 35.5, 'RyhB', 428.3, (26.7, 437.3, 96.7, 467), '12 genes')
srna(390, 649.5, 38, 34.5, 'FnrS', 739.3, (353.3, 749.3, 422.7, 781), '10 genes')

for letter, lx, ly in [('A', 7.5, 10), ('B', 7.5, 292), ('C', 7.5, 585), ('D', 356, 585)]:
    ov.text(lx, ly, letter, fontsize=15, ha='center', va='center')


def r_panel(ax, pts, fit, xlim, ylim, xt, xtl, yt, ytl):
    ax.scatter([p[0] for p in pts], [p[1] for p in pts], s=54, facecolors='none',
               edgecolors='#FF1010', linewidths=0.9, zorder=2)
    ax.axline(fit[0], fit[1], color='#7A0A0A', lw=2.3, dashes=(3.2, 2.6), zorder=3)
    ax.set_xlim(xlim)
    ax.set_ylim(ylim)
    ax.set_xticks(xt)
    ax.set_xticklabels(xtl)
    ax.set_yticks(yt)
    ax.set_yticklabels(ytl, rotation=90, va='center')
    for s in ax.spines.values():
        s.set_color('#3a3a3a')
        s.set_linewidth(1.0)
    ax.tick_params(direction='out', length=5, width=1.0, color='#3a3a3a', labelsize=13.5)
    ax.tick_params(axis='x', pad=3)
    ax.tick_params(axis='y', pad=7)


y_ticks_a = [7.0, 7.5, 8.0, 8.5, 9.0, 9.5, 10.0]
y_lab_a = ['7.0', '', '8.0', '', '9.0', '', '10.0']
y_ticks_b = [8.0, 8.5, 9.0, 9.5, 10.0]
y_lab_b = ['8.0', '', '9.0', '', '10.0']

ax1 = px_axes(185.7, 17, 415.3, 200.3)
r_panel(ax1, spf_pts + spf_core, spf_fit, (3.39, 13.03), (6.95, 10.47),
        [4, 6, 8, 10, 12], ['4', '6', '8', '10', '12'], y_ticks_a, y_lab_a)
ax2 = px_axes(497.3, 17, 730.5, 200.3)
r_panel(ax2, spot42_pts + spot42_core, spot42_fit, (-4.759, -2.525), (6.95, 10.47),
        [-4.5, -4.0, -3.5, -3.0], ['\u22124.5', '', '\u22123.5', ''], y_ticks_a, y_lab_a)
ax3 = px_axes(185.7, 310, 415.3, 494.3)
r_panel(ax3, ryhb_expr_pts + ryhb_expr_core, ryhb_expr_fit, (4.586, 12.31), (7.785, 10.50),
        [6, 8, 10, 12], ['6', '8', '10', '12'], y_ticks_b, y_lab_b)
ax4 = px_axes(498, 310, 731, 494.3)
r_panel(ax4, ryhb_act_pts + ryhb_act_core, ryhb_act_fit, (-8.221, -5.985), (7.785, 10.50),
        [-8.0, -7.5, -7.0, -6.5], ['\u22128.0', '', '\u22127.0', ''], y_ticks_b, y_lab_b)
ax5 = px_axes(505, 611.7, 737, 795.7)
r_panel(ax5, fnrs_pts + fnrs_core, fnrs_fit, (-7.02, -4.219), (7.976, 11.13),
        [-7.0, -6.5, -6.0, -5.5, -5.0, -4.5], ['\u22127.0', '', '\u22126.0', '', '\u22125.0', ''],
        [8.0, 8.5, 9.0, 9.5, 10.0, 10.5, 11.0], ['8.0', '', '9.0', '', '10.0', '', '11.0'])

ylab = 'Mean expression of targets'
ftext(127, 121, ylab, rotation=90, ha='center', va='center', fontsize=14)
ftext(127, 406, ylab, rotation=90, ha='center', va='center', fontsize=14)
ftext(448, 706.5, ylab, rotation=90, ha='center', va='center', fontsize=14)
ftext(295, 248, r'$\it{spf}$ expression', ha='center', va='center', fontsize=14)
ftext(632, 248, 'Spot 42 activity', ha='center', va='center', fontsize=14)
ftext(295, 540, r'$\it{ryhB}$ expression', ha='center', va='center', fontsize=14)
ftext(613, 540, 'RyhB activity', ha='center', va='center', fontsize=14)
ftext(621.5, 840, 'FnrS activity', ha='center', va='center', fontsize=14)

# C: ggplot-style violins
axc = px_axes(71, 596.7, 239.3, 814.3)
axc.set_facecolor('#EBEBEB')
for s in axc.spines.values():
    s.set_visible(False)
for gy in [0.25, -0.25, -0.75]:
    axc.axhline(gy, color='white', lw=0.5, zorder=0)
for gy in [0.0, -0.5]:
    axc.axhline(gy, color='white', lw=1.0, zorder=0)
for gx in [1, 2]:
    axc.axvline(gx, color='white', lw=1.0, zorder=0)

for cx, lev, hw, col in [(1, act_levels, act_halfw, '#F8766D'), (2, expr_levels, expr_halfw, '#00BFC4')]:
    right = [(cx + w, y) for y, w in zip(lev, hw)]
    left = [(cx - w, y) for y, w in zip(lev[::-1], hw[::-1])]
    axc.add_patch(Polygon(right + left, closed=True, fc=col, ec='#333333', lw=0.6, zorder=2))
axc.scatter([1], [act_mean], s=4, color='#D01ED0', zorder=3)
axc.scatter([2], [expr_mean], s=4, color='#6A46E0', zorder=3)
axc.set_xlim(0.4, 2.6)
axc.set_ylim(-0.879, 0.437)
axc.set_xticks([])
axc.set_yticks([-0.5, 0.0])
axc.set_yticklabels(['-0.5', '0'])
axc.tick_params(axis='y', length=3, width=0.7, color='#333333', labelcolor='#4D4D4D',
                labelsize=10.5, pad=1.5)
ftext(27, 701.7, 'Pearson correlation sRNA-gene', rotation=90, ha='center', va='center', fontsize=11.3)

# legend of panel C
for ky, lab, col in [(685, 'Activity', '#F8766D'), (707.7, 'Expression', '#00BFC4')]:
    ov.add_patch(Rectangle((245, ky), 20.7, 20.6, fc=col, ec='#333333', lw=0.8))
    ov.text(268, ky + 10.5, lab, fontsize=10.2, ha='left', va='center')

fig.savefig('out.png', dpi=100)
